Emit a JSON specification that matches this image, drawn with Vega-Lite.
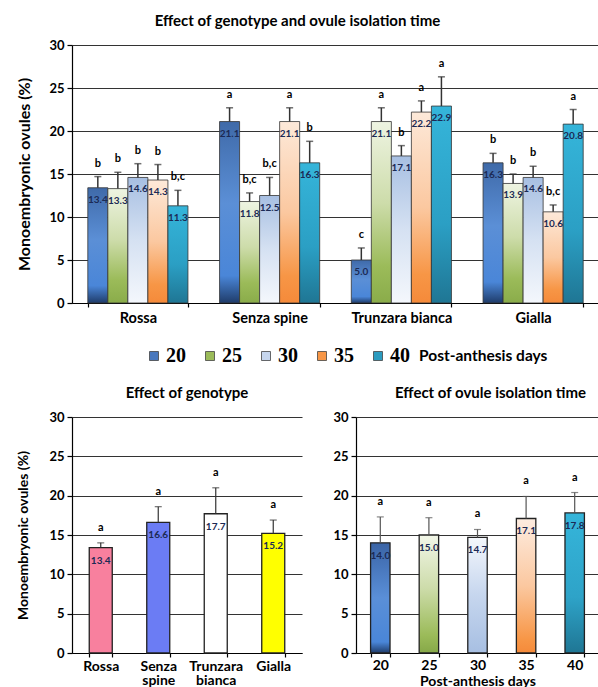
{
  "$schema": "https://vega.github.io/schema/vega-lite/v6.json",
  "padding": {"left": 16, "top": 14, "right": 0, "bottom": 0},
  "spacing": 20,
  "resolve": {"scale": {"fill": "independent", "y": "independent", "x": "independent"}, "legend": {"fill": "independent"}},
  "config": {
    "view": {"stroke": null},
    "font": "Lato",
    "axis": {"labelFont": "Lato", "labelFontWeight": "bold", "labelColor": "#000", "titleFont": "Lato", "titleFontWeight": "bold", "titleColor": "#000", "domainColor": "#000", "tickColor": "#000", "gridColor": "#333", "domainWidth": 1.2, "tickWidth": 1.2},
    "title": {"font": "Lato", "fontWeight": "bold", "color": "#000", "fontSize": 15}
  },
  "vconcat": [
    {
      "title": {"text": "Effect of genotype and ovule isolation time", "dx": -38, "offset": 10, "fontSize": 15},
      "width": 527,
      "height": 258,
      "data": {"values": [
        {"G": "Rossa", "Day": "20", "v": 13.4, "e": 14.7, "L": "b"},
        {"G": "Rossa", "Day": "25", "v": 13.3, "e": 15.2, "L": "b"},
        {"G": "Rossa", "Day": "30", "v": 14.6, "e": 16.2, "L": "b"},
        {"G": "Rossa", "Day": "35", "v": 14.3, "e": 16.1, "L": "b"},
        {"G": "Rossa", "Day": "40", "v": 11.3, "e": 13.1, "L": "b,c"},
        {"G": "Senza spine", "Day": "20", "v": 21.1, "e": 22.7, "L": "a"},
        {"G": "Senza spine", "Day": "25", "v": 11.8, "e": 12.8, "L": "b,c"},
        {"G": "Senza spine", "Day": "30", "v": 12.5, "e": 14.6, "L": "b,c"},
        {"G": "Senza spine", "Day": "35", "v": 21.1, "e": 22.7, "L": "a"},
        {"G": "Senza spine", "Day": "40", "v": 16.3, "e": 18.8, "L": "b"},
        {"G": "Trunzara bianca", "Day": "20", "v": 5.0, "e": 6.4, "L": "c"},
        {"G": "Trunzara bianca", "Day": "25", "v": 21.1, "e": 22.7, "L": "a"},
        {"G": "Trunzara bianca", "Day": "30", "v": 17.1, "e": 18.3, "L": "b"},
        {"G": "Trunzara bianca", "Day": "35", "v": 22.2, "e": 23.5, "L": "a"},
        {"G": "Trunzara bianca", "Day": "40", "v": 22.9, "e": 26.3, "L": "a"},
        {"G": "Gialla", "Day": "20", "v": 16.3, "e": 17.4, "L": "b"},
        {"G": "Gialla", "Day": "25", "v": 13.9, "e": 15.0, "L": "b"},
        {"G": "Gialla", "Day": "30", "v": 14.6, "e": 15.9, "L": "b"},
        {"G": "Gialla", "Day": "35", "v": 10.6, "e": 11.4, "L": "b,c"},
        {"G": "Gialla", "Day": "40", "v": 20.8, "e": 22.5, "L": "a"}
      ]},
      "encoding": {
        "x": {"field": "G", "type": "nominal", "sort": ["Rossa", "Senza spine", "Trunzara bianca", "Gialla"], "scale": {"paddingInner": 0.24, "paddingOuter": 0.12}, "axis": {"title": null, "labelAngle": 0, "tickBand": "extent", "labelFontSize": 14.5, "labelPadding": 4, "tickSize": 4}},
        "xOffset": {"field": "Day", "type": "nominal", "sort": ["20", "25", "30", "35", "40"], "scale": {"paddingInner": 0, "paddingOuter": 0}},
        "y": {"field": "v", "type": "quantitative", "title": "Monoembryonic ovules (%)", "scale": {"domain": [0, 30]}, "axis": {"values": [0, 5, 10, 15, 20, 25, 30], "grid": true, "tickSize": 5, "labelFontSize": 13, "labelPadding": 3, "titleFontSize": 16, "titlePadding": 16}}
      },
      "layer": [
        {
          "mark": {"type": "bar", "stroke": "#333", "strokeWidth": 0.8},
          "encoding": {
            "fill": {
              "field": "Day", "type": "nominal",
              "scale": {"domain": ["20", "25", "30", "35", "40"], "range": ["#4a78bd", "#9bbb59", "#c6d6ee", "#f79646", "#2b9bbf"]},
              "legend": {"orient": "none", "legendX": 72, "legendY": 301, "padding": 0, "direction": "horizontal", "columns": 5, "title": "Post-anthesis days", "titleOrient": "right", "titleFont": "Lato", "titleFontSize": 15.5, "titleFontWeight": "bold", "titleColor": "#000", "titlePadding": 9, "labelFont": "Liberation Serif", "labelFontSize": 20, "labelFontWeight": "bold", "labelColor": "#000", "labelOffset": 2, "symbolType": "square", "symbolSize": 81, "symbolStrokeColor": "#444", "symbolStrokeWidth": 0.8, "columnPadding": 14},
              "condition": [
                {"test": "datum.Day === '20'", "value": {"gradient": "linear", "x1": 0, "y1": 0, "x2": 0, "y2": 1, "stops": [{"offset": 0, "color": "#3f6aa9"}, {"offset": 0.45, "color": "#5b8fd6"}, {"offset": 0.85, "color": "#4a86d8"}, {"offset": 1, "color": "#1f3c6a"}]}},
                {"test": "datum.Day === '25'", "value": {"gradient": "linear", "x1": 0, "y1": 0, "x2": 0, "y2": 1, "stops": [{"offset": 0, "color": "#eef4e2"}, {"offset": 0.45, "color": "#cddcaa"}, {"offset": 0.8, "color": "#9bbb59"}, {"offset": 1, "color": "#8aac4a"}]}},
                {"test": "datum.Day === '30'", "value": {"gradient": "linear", "x1": 0, "y1": 0, "x2": 0, "y2": 1, "stops": [{"offset": 0, "color": "#a7bfe2"}, {"offset": 0.5, "color": "#d5e1f2"}, {"offset": 1, "color": "#f4f7fc"}]}},
                {"test": "datum.Day === '35'", "value": {"gradient": "linear", "x1": 0, "y1": 0, "x2": 0, "y2": 1, "stops": [{"offset": 0, "color": "#fde9d9"}, {"offset": 0.5, "color": "#fbc8a0"}, {"offset": 0.85, "color": "#f79646"}, {"offset": 1, "color": "#f58a3a"}]}},
                {"test": "datum.Day === '40'", "value": {"gradient": "linear", "x1": 0, "y1": 0, "x2": 0, "y2": 1, "stops": [{"offset": 0, "color": "#35b5da"}, {"offset": 0.6, "color": "#2b9fc4"}, {"offset": 1, "color": "#1f7694"}]}}
              ]
            }
          }
        },
        {
          "mark": {"type": "rule", "color": "#333", "strokeWidth": 1.5},
          "encoding": {"y2": {"field": "e"}}
        },
        {
          "mark": {"type": "tick", "color": "#333", "thickness": 1.5, "size": 7},
          "encoding": {"y": {"field": "e", "type": "quantitative", "title": "Monoembryonic ovules (%)"}}
        },
        {
          "mark": {"type": "text", "dy": 12, "fontWeight": "bold", "fontSize": 10, "color": "#1b2a55"},
          "encoding": {"text": {"field": "v", "type": "quantitative", "format": ".1f"}}
        },
        {
          "mark": {"type": "text", "dy": -13, "fontWeight": "bold", "fontSize": 11, "color": "#000"},
          "encoding": {"y": {"field": "e", "type": "quantitative", "title": "Monoembryonic ovules (%)"}, "text": {"field": "L"}}
        }
      ]
    },
    {
      "spacing": 30,
      "resolve": {"scale": {"fill": "independent", "y": "independent", "x": "independent"}, "legend": {"fill": "independent"}},
      "hconcat": [
        {
          "title": {"text": "Effect of genotype", "offset": 10},
          "width": 230,
          "height": 236,
          "data": {"values": [
            {"G": "Rossa", "v": 13.4, "e": 14.0, "L": "a"},
            {"G": "Senza spine", "v": 16.6, "e": 18.6, "L": "a"},
            {"G": "Trunzara bianca", "v": 17.7, "e": 21.0, "L": "a"},
            {"G": "Gialla", "v": 15.2, "e": 16.9, "L": "a"}
          ]},
          "encoding": {
            "x": {"field": "G", "type": "nominal", "sort": ["Rossa", "Senza spine", "Trunzara bianca", "Gialla"], "scale": {"paddingInner": 0.6, "paddingOuter": 0.3}, "axis": {"title": null, "labelAngle": 0, "tickBand": "extent", "labelFontSize": 14, "labelPadding": 2, "tickSize": 4, "labelExpr": "split(datum.label, ' ')", "labelLineHeight": 14}},
            "y": {"field": "v", "type": "quantitative", "title": "Monoembryonic ovules (%)", "scale": {"domain": [0, 30]}, "axis": {"values": [0, 5, 10, 15, 20, 25, 30], "grid": true, "tickSize": 5, "labelFontSize": 13, "labelPadding": 3, "titleFontSize": 14, "titlePadding": 18}}
          },
          "layer": [
            {
              "mark": {"type": "bar", "stroke": "#222", "strokeWidth": 1.3},
              "encoding": {
                "fill": {"field": "G", "type": "nominal", "scale": {"domain": ["Rossa", "Senza spine", "Trunzara bianca", "Gialla"], "range": ["#f8809e", "#6b7cf4", "#ffffff", "#ffff00"]}, "legend": null}
              }
            },
            {
              "mark": {"type": "rule", "color": "#333", "strokeWidth": 1.2},
              "encoding": {"y2": {"field": "e"}}
            },
            {
              "mark": {"type": "tick", "color": "#333", "thickness": 1.2, "size": 7},
              "encoding": {"y": {"field": "e", "type": "quantitative", "title": "Monoembryonic ovules (%)"}}
            },
            {
              "mark": {"type": "text", "dy": 13, "fontWeight": "bold", "fontSize": 10, "color": "#1b2a55"},
              "encoding": {"text": {"field": "v", "type": "quantitative", "format": ".1f"}}
            },
            {
              "mark": {"type": "text", "dy": -15, "fontWeight": "bold", "fontSize": 11, "color": "#000"},
              "encoding": {"y": {"field": "e", "type": "quantitative", "title": "Monoembryonic ovules (%)"}, "text": {"field": "L"}}
            }
          ]
        },
        {
          "title": {"text": "Effect of ovule isolation time", "offset": 10, "dx": 13},
          "width": 243,
          "height": 236,
          "data": {"values": [
            {"Day": "20", "v": 14.0, "e": 17.3, "L": "a"},
            {"Day": "25", "v": 15.0, "e": 17.2, "L": "a"},
            {"Day": "30", "v": 14.7, "e": 15.7, "L": "a"},
            {"Day": "35", "v": 17.1, "e": 19.9, "L": "a"},
            {"Day": "40", "v": 17.8, "e": 20.4, "L": "a"}
          ]},
          "encoding": {
            "x": {"field": "Day", "type": "nominal", "sort": ["20", "25", "30", "35", "40"], "scale": {"paddingInner": 0.6, "paddingOuter": 0.3}, "axis": {"title": "Post-anthesis days", "titleFontSize": 14, "titlePadding": 2, "labelAngle": 0, "tickBand": "extent", "labelFontSize": 14, "labelPadding": 1, "tickSize": 4}},
            "y": {"field": "v", "type": "quantitative", "title": null, "scale": {"domain": [0, 30]}, "axis": {"values": [0, 5, 10, 15, 20, 25, 30], "grid": true, "tickSize": 5, "labelFontSize": 13, "labelPadding": 3}}
          },
          "layer": [
            {
              "mark": {"type": "bar", "stroke": "#222", "strokeWidth": 1.3},
              "encoding": {
                "fill": {
                  "field": "Day", "type": "nominal", "legend": null,
                  "scale": {"domain": ["20", "25", "30", "35", "40"], "range": ["#4a78bd", "#9bbb59", "#c6d6ee", "#f79646", "#2b9bbf"]},
                  "condition": [
                    {"test": "datum.Day === '20'", "value": {"gradient": "linear", "x1": 0, "y1": 0, "x2": 0, "y2": 1, "stops": [{"offset": 0, "color": "#3a64a6"}, {"offset": 0.5, "color": "#5a8fd8"}, {"offset": 0.9, "color": "#4a86d8"}, {"offset": 1, "color": "#1f3c6a"}]}},
                    {"test": "datum.Day === '25'", "value": {"gradient": "linear", "x1": 0, "y1": 0, "x2": 0, "y2": 1, "stops": [{"offset": 0, "color": "#f2f6e8"}, {"offset": 0.45, "color": "#cddcaa"}, {"offset": 0.85, "color": "#9bbb59"}, {"offset": 1, "color": "#86a848"}]}},
                    {"test": "datum.Day === '30'", "value": {"gradient": "linear", "x1": 0, "y1": 0, "x2": 0, "y2": 1, "stops": [{"offset": 0, "color": "#f4f7fc"}, {"offset": 0.5, "color": "#c6d6ee"}, {"offset": 1, "color": "#a7bfe2"}]}},
                    {"test": "datum.Day === '35'", "value": {"gradient": "linear", "x1": 0, "y1": 0, "x2": 0, "y2": 1, "stops": [{"offset": 0, "color": "#fdece0"}, {"offset": 0.5, "color": "#fbc8a0"}, {"offset": 0.9, "color": "#f79646"}, {"offset": 1, "color": "#f58a3a"}]}},
                    {"test": "datum.Day === '40'", "value": {"gradient": "linear", "x1": 0, "y1": 0, "x2": 0, "y2": 1, "stops": [{"offset": 0, "color": "#35b5da"}, {"offset": 0.6, "color": "#2ea3c8"}, {"offset": 1, "color": "#1f7694"}]}}
                  ]
                }
              }
            },
            {
              "mark": {"type": "rule", "color": "#555", "strokeWidth": 1.2},
              "encoding": {"y2": {"field": "e"}}
            },
            {
              "mark": {"type": "tick", "color": "#555", "thickness": 1.2, "size": 7},
              "encoding": {"y": {"field": "e", "type": "quantitative", "title": null}}
            },
            {
              "mark": {"type": "text", "dy": 13, "fontWeight": "bold", "fontSize": 10, "color": "#1b2a55"},
              "encoding": {"text": {"field": "v", "type": "quantitative", "format": ".1f"}}
            },
            {
              "mark": {"type": "text", "dy": -15, "fontWeight": "bold", "fontSize": 11, "color": "#000"},
              "encoding": {"y": {"field": "e", "type": "quantitative", "title": null}, "text": {"field": "L"}}
            }
          ]
        }
      ]
    }
  ]
}
